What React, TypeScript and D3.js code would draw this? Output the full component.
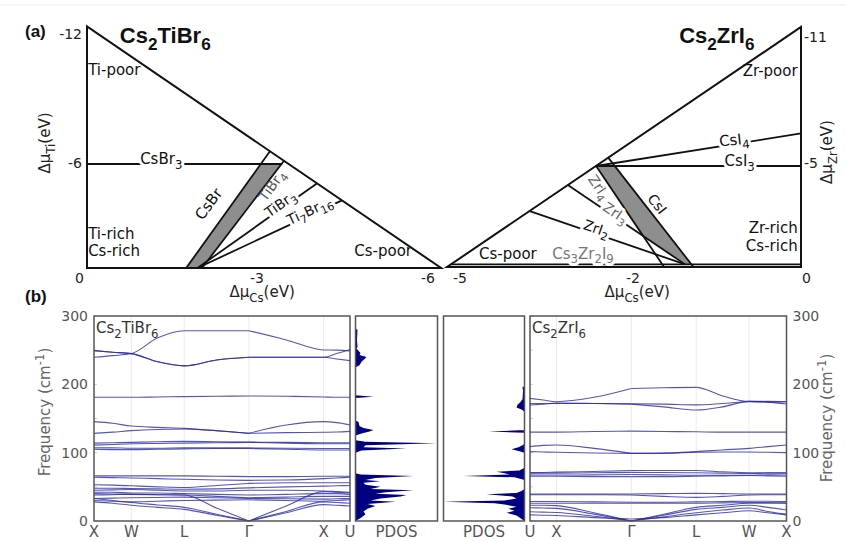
import React from 'react';
import * as d3 from 'd3';

// ---------- (a) chemical potential stability triangles ----------
const tiXTicks = [0, -3, -6];
const tiYTicks = [-6, -12];
const zrXTicks = [-5, -2, 0];
const zrYTicks = [-5, -11];

const tiCorners: [number, number][] = [[0, -12.4], [0, 0], [-6.23, 0]];
const zrCorners: [number, number][] = [[0, -11.62], [0, 0], [-5.225, 0]];

const tiLines: { name: string; pts: [number, number][] }[] = [
  { name: 'CsBr3', pts: [[0, -6], [-3.44, -6]] },
  { name: 'CsBr', pts: [[-1.75, 0], [-3.23, -6.6]] },
  { name: 'TiBr4', pts: [[-2.03, 0], [-3.47, -6.14]] },
  { name: 'TiBr3', pts: [[-1.95, 0], [-4.05, -4.88]] },
  { name: 'Ti7Br16', pts: [[-1.95, 0], [-4.49, -3.9]] },
];
const tiStable: [number, number][] = [[-1.75, 0], [-3.06, -6], [-3.43, -6], [-2.03, 0]];

const zrLines: { name: string; pts: [number, number][] }[] = [
  { name: 'CsI4', pts: [[-2.64, -5], [0, -6.55]] },
  { name: 'CsI3', pts: [[-2.64, -5], [0, -5]] },
  { name: 'CsI', pts: [[-2.43, -5.4], [-1.28, 0]] },
  { name: 'ZrI4', pts: [[-2.64, -5], [-1.63, 0]] },
  { name: 'ZrI3', pts: [[-3.13, -4.06], [-1.38, -0.13]] },
  { name: 'ZrI2', pts: [[-3.79, -2.77], [-1.38, -0.13]] },
  { name: 'Cs3Zr2I9', pts: [[-5.16, -0.13], [0, -0.13]] },
];
const zrStable: [number, number][] = [[-2.64, -5], [-2.32, -5], [-1.31, -0.13], [-1.38, -0.13], [-1.9, -1.58]];

// ---------- (b) phonon dispersion + PDOS ----------
const kLeft = [
  { label: 'X', k: 0 }, { label: 'W', k: 0.5 }, { label: 'L', k: 1.207 },
  { label: 'Γ', k: 2.073 }, { label: 'X', k: 3.073 }, { label: 'U', k: 3.427 },
];
const kRight = [
  { label: 'U', k: 0 }, { label: 'X', k: 0.354 }, { label: 'Γ', k: 1.354 },
  { label: 'L', k: 2.22 }, { label: 'W', k: 2.927 }, { label: 'X', k: 3.427 },
];
const freqTicks = [0, 100, 200, 300];

// values at X, mid, W, mid, L, mid, Γ, mid, X, mid, U
const tiBands: number[][] = [
  [239.6, 242, 245, 268, 278.5, 278.5, 278.5, 265, 250.3, 250, 249],
  [249.3, 247, 245, 233, 227, 235.6, 239.6, 239.6, 239.6, 245, 251],
  [249.3, 247, 245, 233, 227, 235.6, 239.6, 239.6, 239.6, 237, 234.7],
  [181, 181, 181, 181.5, 182, 182.5, 183, 182.5, 181.5, 181, 181],
  [145.4, 143, 139, 137, 135.6, 132.2, 128.3, 140.5, 145.4, 144, 140.5],
  [128.3, 130, 132.2, 134, 134.6, 132, 128.3, 129.3, 129.8, 130.2, 131.2],
  [114, 114.5, 115, 116, 116.5, 116, 115.5, 115, 114.5, 114.5, 114.5],
  [111, 112, 113, 113.5, 114, 114.5, 115, 114, 113, 113, 113],
  [107, 107, 106.5, 106.5, 107, 107, 107, 106.5, 106, 106, 106],
  [105, 104.5, 104.5, 105, 105.5, 106, 106, 105, 104, 104, 104],
  [66, 66, 66, 66, 66, 65.5, 65, 65, 65.5, 65.5, 65.5],
  [64, 63.5, 63, 62, 61, 60, 59.5, 60, 62, 63, 64],
  [53, 52.5, 51.5, 50, 49, 52, 55, 56, 56, 56, 56],
  [48, 48, 47.5, 47, 46.5, 47, 48.5, 50, 51, 51.5, 52],
  [45, 45.5, 46, 45, 44, 44, 45, 45, 44, 43, 42],
  [42, 42, 41, 41, 40, 39, 38, 39, 40, 40, 39],
  [38, 38.5, 39, 38.5, 38, 36, 34, 35, 36, 36, 36],
  [33, 33.5, 34, 34.5, 35, 34, 33, 32.5, 32, 32.5, 33],
  [30, 29, 28, 29, 30, 30.5, 31, 30, 29, 30, 31],
  [40, 39.5, 39, 38.5, 38, 19, 0, 22, 43, 42, 41],
  [33, 30, 27, 23.5, 20, 10, 0, 14, 28, 27, 26],
  [28, 26, 23, 20, 17, 8.5, 0, 12, 24, 23, 22],
];

// values at U, mid, X, mid, Γ, mid, L, mid, W, mid, X
const zrBands: number[][] = [
  [179.5, 177, 174.6, 181, 194, 195, 195.5, 183, 175, 175, 174.6],
  [169.7, 171, 172.5, 172, 171, 167, 162.4, 167, 175, 174, 171.2],
  [172, 172, 172, 172, 171.5, 171, 170, 172, 174.6, 174, 174.6],
  [130, 130, 130, 131, 131.5, 131, 130.5, 130, 130, 130, 130],
  [108.8, 110.7, 111.2, 106.3, 99, 99.5, 101.5, 104, 106.3, 108.8, 111.2],
  [101.5, 101, 100.5, 99.5, 99, 99, 100.5, 101, 101, 100.5, 100],
  [70.7, 71, 71.5, 72.5, 73.7, 74, 74, 72, 70.7, 70.7, 70.7],
  [70, 70, 70, 70.5, 71, 71, 70.5, 70, 69.5, 70, 70],
  [67.3, 67.3, 67.3, 67.5, 68, 67.5, 67, 67, 67, 67.5, 67.3],
  [65.5, 65.5, 65.5, 65, 65, 65, 65.5, 66, 66.5, 66, 65.5],
  [39.5, 39.5, 39.5, 39.5, 39.5, 40, 40.5, 40, 39.5, 39.5, 39.5],
  [38.5, 38.5, 38.5, 38.5, 38, 36, 34.6, 36, 38, 38.5, 38.5],
  [28.5, 28.5, 28.5, 28, 27.5, 27.5, 28, 28.5, 29, 29, 28.5],
  [26, 26, 26, 26, 26, 26, 26, 26.5, 27, 27, 26.5],
  [23, 23, 22.5, 12, 0, 10, 20, 23, 26, 26, 26],
  [19.5, 19, 18.5, 10, 0, 8.5, 17, 20, 23, 20, 16],
  [13.5, 13, 12.5, 7, 0, 6, 12, 16, 19, 14, 10],
  [9, 8.5, 8, 5, 3, 5, 9, 12, 15, 12, 9],
];

// [frequency, PDOS (arb.)]
const tiPdos: [number, number][] = [
  [0, 0], [5, 6], [10, 10], [14, 8], [18, 12], [22, 20], [25, 12], [28, 40], [30, 15], [33, 25],
  [36, 45], [38, 51], [40, 20], [42, 30], [45, 58], [47, 15], [50, 25], [53, 10], [56, 8], [58, 25],
  [60, 10], [63, 20], [66, 58], [68, 5], [70, 0], [100, 0], [103, 6], [106, 51], [108, 8], [111, 10],
  [113.7, 81], [116, 10], [118, 0], [125, 0], [128, 6], [131, 14], [133, 18], [136, 8], [139, 4],
  [145, 3], [147, 0], [180, 0], [182, 18], [184, 0], [225, 0], [228, 4], [233, 6], [237, 9], [240, 11],
  [243, 4], [246, 5], [249, 3], [252, 1], [255, 2], [265, 1.5], [280, 2], [281, 0],
];
const zrPdos: [number, number][] = [
  [0, 0], [8, 8], [12, 18], [15, 10], [18, 16], [21, 8], [24, 20], [26, 30], [28, 81], [30, 20],
  [33, 8], [36, 12], [39, 38], [41, 8], [44, 3], [47, 0], [60, 0], [64, 10], [66, 61], [68, 15],
  [70, 20], [72, 28], [74, 5], [78, 0], [100, 0], [102, 5], [105, 13], [108, 6], [111, 2], [113, 0],
  [129, 0], [131, 36], [133, 0], [160, 0], [163, 3], [166, 8], [170, 7], [174, 4], [178, 2],
  [190, 1.5], [196, 2], [197, 0],
];

const SANS = 'DejaVu Sans, Verdana, sans-serif';
const BOLD = 'Liberation Sans, Arial, sans-serif';

// "Cs_{2}TiBr_{6}" / "cm^{-1}" -> tspans
function Rich({ s, fs }: { s: string; fs: number }) {
  const parts = s.split(/([_^]\{[^}]*\})/).filter(Boolean);
  let shift = 0;
  return (
    <>
      {parts.map((p, i) => {
        if (p.startsWith('_{') || p.startsWith('^{')) {
          const target = p[0] === '^' ? -0.4 * fs : 0.3 * fs;
          const dy = target - shift;
          shift = target;
          return <tspan key={i} dy={dy} fontSize={fs * 0.78}>{p.slice(2, -1)}</tspan>;
        }
        const dy = -shift;
        shift = 0;
        return <tspan key={i} dy={dy}>{p}</tspan>;
      })}
    </>
  );
}

// label; when it sits on a line a white copy behind it cuts the line
function Label({ x, y, s, rot = 0, anchor = 'middle', color = '#111', fs = 15, onLine = false, dy = '0.35em' }: any) {
  const common = {
    transform: `translate(${x},${y}) rotate(${rot})`, textAnchor: anchor, dy,
    fontSize: fs, fontFamily: SANS,
  };
  return (
    <g>
      {onLine && (
        <text {...common} fill="#fff" stroke="#fff" strokeWidth={6} strokeLinejoin="round">
          <Rich s={s} fs={fs} />
        </text>
      )}
      <text {...common} fill={color}>
        <Rich s={s} fs={fs} />
      </text>
    </g>
  );
}

function TiTriangle() {
  const x = d3.scaleLinear().domain([0, -3, -6]).range([87, 257, 428]);
  const y = d3.scaleLinear().domain([0, -6, -12]).range([268, 164, 35]);
  const line = d3.line<[number, number]>().x(d => x(d[0])).y(d => y(d[1]));
  return (
    <g>
      <path d={line(tiStable)! + 'Z'} fill="#8e8e8e" />
      {tiLines.map(l => <path key={l.name} d={line(l.pts)!} stroke="#111" strokeWidth={1.8} fill="none" />)}
      <Label x={x(-1.31)} y={y(-6)} s="CsBr_{3}" onLine />
      <Label x={x(-2.22)} y={y(-3.52)} s="CsBr" rot={-54} />
      <Label x={x(-3.33)} y={y(-4.6)} s="TiBr_{4}" rot={-54} color="#555" fs={14} />
      <Label x={x(-3.46)} y={y(-3.46)} s="TiBr_{3}" rot={-35} onLine fs={14} />
      <Label x={x(-3.96)} y={y(-3.06)} s="Ti_{7}Br_{16}" rot={-25} onLine fs={14} />
      <Label x={x(-0.02)} y={y(-10.15)} s="Ti-poor" anchor="start" />
      <Label x={x(-0.02)} y={y(-1.65)} s="Ti-rich" anchor="start" />
      <Label x={x(-0.02)} y={y(-0.67)} s="Cs-rich" anchor="start" />
      <Label x={x(-5.72)} y={y(-0.67)} s="Cs-poor" anchor="end" />
      <path d={line(tiCorners)! + 'Z'} stroke="#111" strokeWidth={2} fill="none" />
      <text x={x(-0.58)} y={y(-11.63)} fontFamily={BOLD} fontWeight="bold" fontSize={22} fill="#111">
        <Rich s="Cs_{2}TiBr_{6}" fs={22} />
      </text>
      {tiYTicks.map(t => (
        <text key={t} x={82} y={y(t) - 1} dy="0.35em" textAnchor="end" fontSize={14} fontFamily={SANS} fill="#222">{t}</text>
      ))}
      {tiXTicks.map(t => (
        <text key={t} x={t === 0 ? x(t) - 3 : x(t)} y={278} dy="0.35em" textAnchor={t === 0 ? 'end' : 'middle'}
          fontSize={14} fontFamily={SANS} fill="#222">{t}</text>
      ))}
      <text x={x(-3.09)} y={297} textAnchor="middle" fontSize={15} fontFamily={SANS} fill="#222">
        <Rich s="Δμ_{Cs}(eV)" fs={15} />
      </text>
      <text transform="translate(50,143) rotate(-90)" textAnchor="middle" dy="0.2em" fontSize={15} fontFamily={SANS} fill="#222">
        <Rich s="Δμ_{Ti}(eV)" fs={15} />
      </text>
    </g>
  );
}

function ZrTriangle() {
  const x = d3.scaleLinear().domain([0, -2, -5]).range([801, 633, 460]);
  const y = d3.scaleLinear().domain([0, -5, -11]).range([267, 166, 40]);
  const line = d3.line<[number, number]>().x(d => x(d[0])).y(d => y(d[1]));
  return (
    <g>
      <path d={line(zrStable)! + 'Z'} fill="#8e8e8e" />
      {zrLines.map(l => <path key={l.name} d={line(l.pts)!} stroke="#111" strokeWidth={1.8} fill="none" />)}
      <Label x={x(-0.79)} y={y(-6.0)} s="CsI_{4}" rot={-6} onLine />
      <Label x={x(-0.73)} y={y(-5)} s="CsI_{3}" onLine />
      <Label x={x(-2.66)} y={y(-3.81)} s="ZrI_{4}" rot={56} color="#666" fs={14} />
      <Label x={x(-2.35)} y={y(-2.48)} s="ZrI_{3}" rot={34} color="#666" fs={14} onLine />
      <Label x={x(-2.66)} y={y(-1.68)} s="ZrI_{2}" rot={19} fs={14} onLine />
      <Label x={x(-1.76)} y={y(-2.97)} s="CsI" rot={52} fs={14} />
      <Label x={x(-3.4)} y={y(-0.4)} s="Cs_{3}Zr_{2}I_{9}" anchor="start" color="#777" dy="0" onLine />
      <Label x={x(-4.67)} y={y(-0.4)} s="Cs-poor" anchor="start" dy="0" />
      <Label x={x(-0.04)} y={y(-9.3)} s="Zr-poor" anchor="end" />
      <Label x={x(-0.04)} y={y(-1.66)} s="Zr-rich" anchor="end" />
      <Label x={x(-0.04)} y={y(-0.77)} s="Cs-rich" anchor="end" />
      <path d={line(zrCorners)! + 'Z'} stroke="#111" strokeWidth={2} fill="none" />
      <text x={x(-1.45)} y={y(-10.86)} fontFamily={BOLD} fontWeight="bold" fontSize={22} fill="#111">
        <Rich s="Cs_{2}ZrI_{6}" fs={22} />
      </text>
      {zrYTicks.map(t => (
        <text key={t} x={804} y={y(t) - 3} dy="0.35em" fontSize={14} fontFamily={SANS} fill="#222">{t}</text>
      ))}
      {zrXTicks.map(t => (
        <text key={t} x={t === 0 ? x(t) + 1 : x(t)} y={278} dy="0.35em" textAnchor={t === 0 ? 'start' : 'middle'}
          fontSize={14} fontFamily={SANS} fill="#222">{t}</text>
      ))}
      <text x={x(-1.95)} y={297} textAnchor="middle" fontSize={15} fontFamily={SANS} fill="#222">
        <Rich s="Δμ_{Cs}(eV)" fs={15} />
      </text>
      <text transform="translate(832,152) rotate(-90)" textAnchor="middle" dy="0.2em" fontSize={15} fontFamily={SANS} fill="#222">
        <Rich s="Δμ_{Zr}(eV)" fs={15} />
      </text>
    </g>
  );
}

const fy = d3.scaleLinear().domain([0, 300]).range([521, 316]);

function samplesOf(kp: number[]) {
  return kp.flatMap((k, i) => (i < kp.length - 1 ? [k, (k + kp[i + 1]) / 2] : [k]));
}

function BandPanel({ kpts, bands, x0, x1, title, side }: any) {
  const kp: number[] = kpts.map((d: any) => d.k);
  const kx = d3.scaleLinear().domain([0, kp[kp.length - 1]]).range([x0, x1]);
  const samples = samplesOf(kp);
  const gi = samples.indexOf(kp[kpts.findIndex((d: any) => d.label === 'Γ')]);
  const ln = d3.line<[number, number]>().x(d => kx(d[0])).y(d => fy(d[1])).curve(d3.curveMonotoneX);
  const paths: string[] = [];
  bands.forEach((b: number[]) => {
    const pts = b.map((v, j) => [samples[j], v] as [number, number]);
    paths.push(ln(pts.slice(0, gi + 1))!, ln(pts.slice(gi))!);
  });
  const minor = d3.range(0, 301, 50);
  return (
    <g>
      {kp.slice(1, -1).map((k, i) => (
        <line key={i} x1={kx(k)} x2={kx(k)} y1={fy(0)} y2={fy(300)} stroke="#ececec" strokeWidth={1} />
      ))}
      {minor.map(m => (
        <line key={m} x1={x0} x2={x0 + 3} y1={fy(m)} y2={fy(m)} stroke="#ccc" strokeWidth={1} />
      ))}
      {paths.map((d, i) => (
        <path key={i} d={d} fill="none" stroke="#2b2ba0" strokeOpacity={0.8} strokeWidth={1.1} />
      ))}
      <rect x={x0} y={fy(300)} width={x1 - x0} height={fy(0) - fy(300)} fill="none" stroke="#555" strokeWidth={1.5} />
      <text x={x0 + 2} y={fy(300) + 17} fontSize={15} fontFamily={SANS} fill="#333">
        <Rich s={title} fs={15} />
      </text>
      {kpts.map((d: any, i: number) => (
        <text key={i} x={kx(d.k)} y={537} textAnchor="middle" fontSize={15} fontFamily={SANS} fill="#555">{d.label}</text>
      ))}
      {freqTicks.map(t => (
        <text key={t} x={side === 'left' ? x0 - 6 : x1 + 6} y={fy(t)} dy="0.35em"
          textAnchor={side === 'left' ? 'end' : 'start'} fontSize={14} fontFamily={SANS} fill="#555">{t}</text>
      ))}
      <text transform={`translate(${side === 'left' ? 50 : 832},${side === 'left' ? 412 : 418}) rotate(-90)`}
        textAnchor="middle" dy="0.35em" fontSize={15} fontFamily={SANS} fill="#666">
        <Rich s="Frequency (cm^{-1})" fs={15} />
      </text>
    </g>
  );
}

function PdosPanel({ data, x0, x1, fromRight }: any) {
  const px = d3.scaleLinear().domain([0, 82]).range(fromRight ? [x1, x1 - 82] : [x0, x0 + 82]);
  const area = d3.area<[number, number]>().y(d => fy(d[0])).x0(px(0)).x1(d => px(d[1]));
  return (
    <g>
      <path d={area(data)!} fill="#000080" />
      <rect x={x0} y={fy(300)} width={x1 - x0} height={fy(0) - fy(300)} fill="none" stroke="#555" strokeWidth={1.5} />
      <text x={(x0 + x1) / 2} y={537} textAnchor="middle" fontSize={15} fontFamily={SANS} fill="#555">PDOS</text>
    </g>
  );
}

export default function App() {
  return (
    <svg width={846} height={541} style={{ position: 'absolute', left: 0, top: 0, background: '#fff' }}>
      <line x1={0} x2={846} y1={5} y2={5} stroke="#eee" strokeWidth={1} />
      <text x={25} y={37} fontFamily={BOLD} fontWeight="bold" fontSize={17} fill="#111">(a)</text>
      <text x={25} y={302} fontFamily={BOLD} fontWeight="bold" fontSize={17} fill="#111">(b)</text>
      <TiTriangle />
      <ZrTriangle />
      <BandPanel kpts={kLeft} bands={tiBands} x0={94} x1={350} title="Cs_{2}TiBr_{6}" side="left" />
      <PdosPanel data={tiPdos} x0={355.5} x1={437.5} />
      <PdosPanel data={zrPdos} x0={443.5} x1={524.5} fromRight />
      <BandPanel kpts={kRight} bands={zrBands} x0={530} x1={786.5} title="Cs_{2}ZrI_{6}" side="right" />
    </svg>
  );
}
